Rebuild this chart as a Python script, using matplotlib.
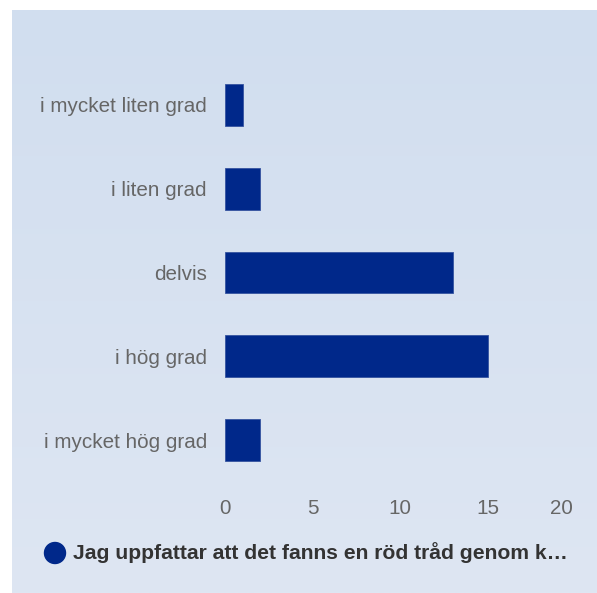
import matplotlib
matplotlib.use("Agg")
import matplotlib.pyplot as plt
import matplotlib.transforms as mtransforms
import numpy as np
from matplotlib.patches import Circle

categories = ["i mycket liten grad", "i liten grad", "delvis", "i hög grad", "i mycket hög grad"]
values = [1, 2, 13, 15, 2]
x_ticks = [0, 5, 10, 15, 20]
legend_label = "Jag uppfattar att det fanns en röd tråd genom k…"

W, H = 597, 593
fig = plt.figure(figsize=(W / 100, H / 100), dpi=100, facecolor="white")
plt.rcParams["font.family"] = ["Liberation Sans", "DejaVu Sans"]

# background panel with gradient
bg = fig.add_axes([12 / W, 0, 1 - 12 / W, 1 - 10 / H])
bg.set_axis_off()
top = np.array([209, 222, 239]) / 255
bot = np.array([222, 230, 243]) / 255
t = np.linspace(0, 1, 256)[:, None]
grad = top[None, :] * (1 - t) + bot[None, :] * t
bg.imshow(grad[:, None, :], aspect="auto", extent=[0, 1, 0, 1], interpolation="bilinear")
bg.set_xlim(0, 1)
bg.set_ylim(0, 1)

ax_top = 63.1
ax_bot = 481.9
ax_left = 225
ax_right = 575
ax = fig.add_axes([ax_left / W, 1 - ax_bot / H, (ax_right - ax_left) / W, (ax_bot - ax_top) / H])
ax.patch.set_alpha(0)
y = np.arange(len(categories))
ax.barh(y, values, height=0.5, color="#00288a", edgecolor="#3553a0", linewidth=0.6)
ax.set_ylim(len(categories) - 0.5, -0.5)
ax.set_xlim(0, 20)
ax.set_yticks(y)
ax.set_yticklabels(categories)
ax.set_xticks(x_ticks)
ax.set_xticklabels([str(v) for v in x_ticks])
ax.tick_params(axis="y", length=0, pad=13, labelsize=14.9, labelcolor="#666666")
ax.tick_params(axis="x", length=0, pad=12, labelsize=14.9, labelcolor="#666666")
for s in ax.spines.values():
    s.set_visible(False)
# last label kept inside the chart (right-aligned)
last = ax.get_xticklabels()[-1]
last.set_horizontalalignment("right")
last.set_transform(last.get_transform() + mtransforms.ScaledTranslation(-2 / 100, 0, fig.dpi_scale_trans))

# legend
leg_ax = fig.add_axes([0, 0, 1, 1])
leg_ax.set_axis_off()
leg_ax.set_xlim(0, W)
leg_ax.set_ylim(H, 0)
leg_ax.add_patch(Circle((55, 553), 10.5, color="#00288a"))
leg_ax.text(73, 553, legend_label, fontsize=15.2, fontweight="bold", color="#333333",
            va="center", ha="left")

fig.savefig("out.png", dpi=100, facecolor="white")
